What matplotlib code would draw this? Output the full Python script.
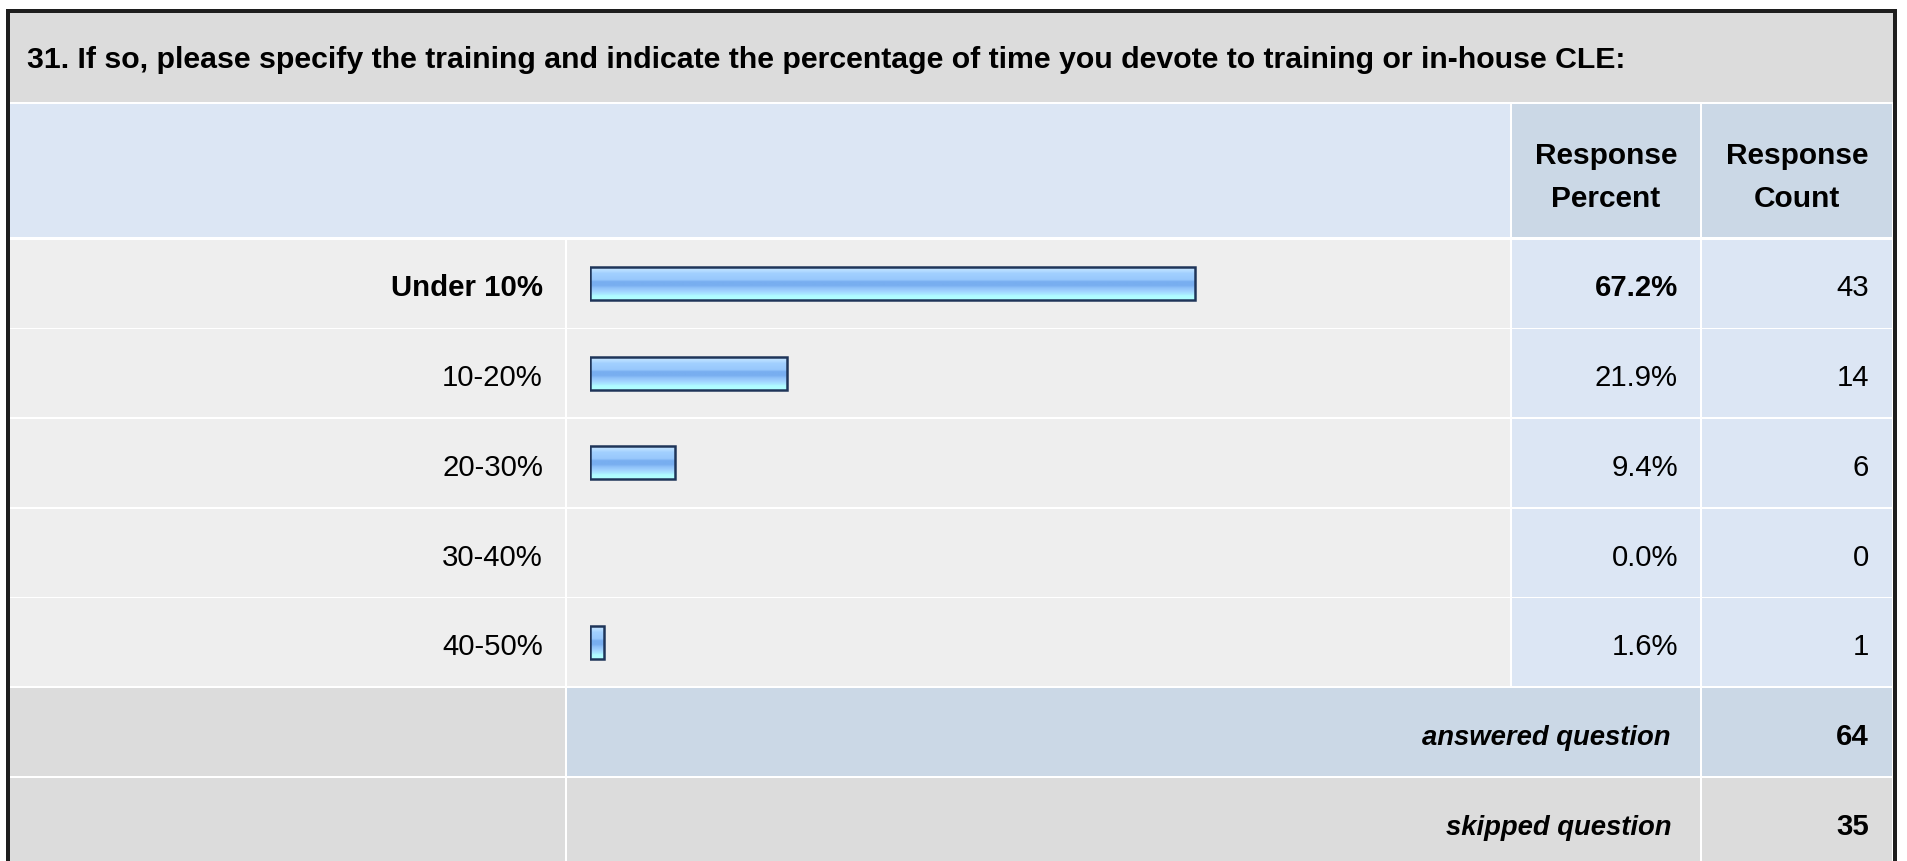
import numpy as np
import matplotlib
matplotlib.use("Agg")
import matplotlib.pyplot as plt
from matplotlib.patches import Rectangle
from matplotlib.colors import LinearSegmentedColormap

plt.rcParams["font.family"] = ["Liberation Sans", "DejaVu Sans"]

# ---- data -------------------------------------------------------------
question = ("31. If so, please specify the training and indicate the percentage "
            "of time you devote to training or in-house CLE:")
answer_options = ["Under 10%", "10-20%", "20-30%", "30-40%", "40-50%"]
response_percent = [67.2, 21.9, 9.4, 0.0, 1.6]
response_count = [43, 14, 6, 0, 1]
answered_count = 64
skipped_count = 35
header_percent = ["Response", "Percent"]
header_count = ["Response", "Count"]

# ---- layout (pixels) ----------------------------------------------------
W, H = 1907, 862
X_IN0, X_IN1 = 10, 1893
COL_LABEL = (10, 565)
COL_BAR = (567, 1510)
COL_PCT = (1512, 1700)
COL_CNT = (1702, 1892)
ROW0_TOP, ROW_PITCH, ROW_H = 240.5, 89.7, 88.0

C_TITLE = "#dcdcdc"
C_HEAD = "#dce6f4"
C_HEAD_DARK = "#cbd8e6"
C_ROW = "#eeeeee"
C_VAL = "#dce6f4"
C_TEXT = "#000000"
FS = 21.2
FS_HEAD = 21.5
FS_SUM = 19.8
FS_TITLE = 21.8

fig = plt.figure(figsize=(W / 100, H / 100), dpi=100)
fig.patch.set_facecolor("white")
bg = fig.add_axes([0, 0, 1, 1])
bg.set_xlim(0, W)
bg.set_ylim(H, 0)
bg.axis("off")


def cell(x0, x1, y0, y1, color):
    bg.add_patch(Rectangle((x0, y0), x1 - x0, y1 - y0,
                           facecolor=color, edgecolor="none", zorder=1))


# outer frame and white grid background
cell(6, 1897, 10, H + 10, "#1e1e1e")
cell(X_IN0, X_IN1, 14, H + 10, "white")

# title band
cell(X_IN0, X_IN1, 14, 103, C_TITLE)
bg.text(27, 68, question, fontsize=FS_TITLE, fontweight="bold", color=C_TEXT,
        ha="left", va="baseline", zorder=3)

# header band
cell(X_IN0, COL_BAR[1], 105, 238, C_HEAD)
cell(*COL_PCT, 105, 238, C_HEAD_DARK)
cell(*COL_CNT, 105, 238, C_HEAD_DARK)
for col, lines in ((COL_PCT, header_percent), (COL_CNT, header_count)):
    xc = (col[0] + col[1]) / 2
    for k, line in enumerate(lines):
        bg.text(xc, 164 + 43 * k, line, fontsize=FS_HEAD, fontweight="bold",
                color=C_TEXT, ha="center", va="baseline", zorder=3)

# answer rows
top_pct = max(response_percent)
n = len(answer_options)
for i, (lab, pct, cnt) in enumerate(zip(answer_options, response_percent,
                                        response_count)):
    y0 = ROW0_TOP + i * ROW_PITCH
    y1 = y0 + ROW_H
    cell(*COL_LABEL, y0, y1, C_ROW)
    cell(*COL_BAR, y0, y1, C_ROW)
    cell(*COL_PCT, y0, y1, C_VAL)
    cell(*COL_CNT, y0, y1, C_VAL)
    yb = y0 + 44 + 12
    w = "bold" if pct == top_pct else "normal"
    bg.text(543, yb, lab, fontsize=FS, fontweight=w, color=C_TEXT,
            ha="right", va="baseline", zorder=3)
    bg.text(1678, yb, f"{pct:.1f}%", fontsize=FS, fontweight=w,
            color=C_TEXT, ha="right", va="baseline", zorder=3)
    bg.text(1869, yb, f"{cnt}", fontsize=FS, color=C_TEXT,
            ha="right", va="baseline", zorder=3)

# summary rows
summary = [("answered question", answered_count, C_HEAD_DARK),
           ("skipped question", skipped_count, C_TITLE)]
for j, (lab, val, mid_color) in enumerate(summary):
    y0 = ROW0_TOP + (n + j) * ROW_PITCH
    y1 = y0 + ROW_H
    cell(*COL_LABEL, y0, y1, C_TITLE)
    cell(COL_BAR[0], COL_PCT[1], y0, y1, mid_color)
    cell(*COL_CNT, y0, y1, mid_color)
    yb = y0 + 44 + 12
    bg.text(1671, yb, lab, fontsize=FS_SUM, fontweight="bold", fontstyle="italic",
            color=C_TEXT, ha="right", va="baseline", zorder=3)
    bg.text(1869, yb, f"{val}", fontsize=FS, fontweight="bold",
            color=C_TEXT, ha="right", va="baseline", zorder=3)

# ---- bars: percent axis, 0..100 spans 900 px --------------------------
ax_top = ROW0_TOP + 44 - ROW_PITCH / 2
ax_bot = ax_top + n * ROW_PITCH
x0_px, span_px = 590, 900
ax = fig.add_axes([x0_px / W, 1 - ax_bot / H, span_px / W, (ax_bot - ax_top) / H])
ax.set_xlim(0, 100)
ax.set_ylim(n - 0.5, -0.5)
ax.axis("off")
ax.patch.set_visible(False)

bar_h = 33 / ROW_PITCH
grad = LinearSegmentedColormap.from_list("bar_gloss", [
    (0.00, "#c8e6ff"), (0.12, "#b2daff"), (0.18, "#a2d0ff"),
    (0.38, "#98c8fc"), (0.44, "#78aef0"), (0.56, "#78aef0"),
    (0.63, "#8ec0f8"), (0.73, "#a0d2ff"), (0.82, "#a8e6ff"),
    (0.88, "#b0fcff"), (1.00, "#b0ffff")])
gradient = np.linspace(0, 1, 64).reshape(-1, 1)

ypos = np.arange(n)
vals = np.array(response_percent)
shown = vals > 0
bars = ax.barh(ypos[shown], vals[shown], height=bar_h, left=0,
               facecolor="none", edgecolor="#1f3559", linewidth=1.8, zorder=4)
for rect in bars:
    x, y = rect.get_x(), rect.get_y()
    im = ax.imshow(gradient, cmap=grad, aspect="auto", zorder=3,
                   extent=(x, x + rect.get_width(), y + rect.get_height(), y),
                   interpolation="bilinear")
    im.set_clip_path(rect)
ax.set_xlim(0, 100)
ax.set_ylim(n - 0.5, -0.5)

fig.savefig("out.png", dpi=100, facecolor="white")
